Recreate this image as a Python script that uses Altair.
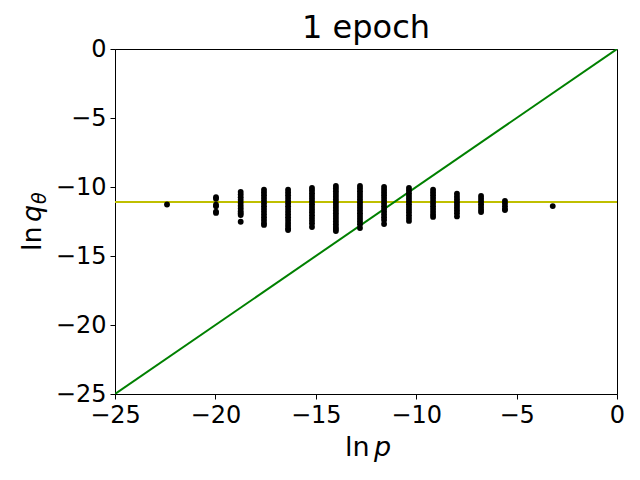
import altair as alt
import pandas as pd

# column positions (ln p) and the ln q values in each column
col_x = [-22.41, -19.97, -18.74, -17.58, -16.38, -15.19, -14.0, -12.8,
         -11.6, -10.36, -9.16, -7.97, -6.77, -5.58, -3.2]
col_y = [
    [-11.27],
    [-10.74, -10.86, -11.28, -11.40, -11.78, -11.88],
    [-10.36, -10.55, -10.75, -10.95, -11.15, -11.35, -11.55, -11.75, -11.9, -12.03, -12.52],
    [-10.2, -10.4, -10.6, -10.8, -11.0, -11.2, -11.4, -11.6, -11.8, -12.0, -12.2, -12.4, -12.6, -12.75],
    [-10.2, -10.4, -10.6, -10.8, -11.0, -11.2, -11.4, -11.6, -11.8, -12.0, -12.2, -12.4, -12.6, -12.8, -13.0, -13.12],
    [-10.07, -10.25, -10.45, -10.65, -10.85, -11.05, -11.25, -11.45, -11.65, -11.85, -12.05, -12.25, -12.45, -12.65, -12.9],
    [-9.93, -10.1, -10.3, -10.5, -10.7, -10.9, -11.1, -11.3, -11.5, -11.7, -11.9, -12.1, -12.3, -12.5, -12.7, -12.9, -13.05, -13.19],
    [-9.93, -10.1, -10.3, -10.5, -10.7, -10.9, -11.1, -11.3, -11.5, -11.7, -11.9, -12.1, -12.3, -12.5, -12.7, -12.97],
    [-10.0, -10.2, -10.4, -10.6, -10.8, -11.0, -11.2, -11.4, -11.6, -11.8, -12.0, -12.2, -12.4, -12.68],
    [-10.07, -10.25, -10.45, -10.65, -10.85, -11.05, -11.25, -11.45, -11.65, -11.85, -12.05, -12.25, -12.46],
    [-10.2, -10.4, -10.6, -10.8, -11.0, -11.2, -11.4, -11.6, -11.8, -12.0, -12.17],
    [-10.49, -10.7, -10.9, -11.1, -11.3, -11.5, -11.7, -11.9, -12.13],
    [-10.65, -10.85, -11.05, -11.25, -11.45, -11.65, -11.81],
    [-11.01, -11.2, -11.4, -11.6, -11.67],
    [-11.38],
]
diag_x = [-25, 0]
diag_y = [-25, 0]
mean_level = -11.08
ticks = [-25, -20, -15, -10, -5, 0]

rows = []
for cx, ys in zip(col_x, col_y):
    for v in ys:
        rows.append({"lnp": cx, "lnq": v})
pts_df = pd.DataFrame(rows)
diag_df = pd.DataFrame({"lnp": diag_x, "lnq": diag_y})

W, H = 502, 345
FONT = "DejaVu Sans"

xs = alt.Scale(domain=[-25, 0], nice=False, zero=False)
ys_ = alt.Scale(domain=[-25, 0], nice=False, zero=False)
xax = alt.Axis(values=ticks, title=None, grid=False, labelFlush=False)
yax = alt.Axis(values=ticks, title=None, grid=False, labelFlush=False)

points = alt.Chart(pts_df).mark_circle(size=34, color="black", opacity=1).encode(
    x=alt.X("lnp:Q", scale=xs, axis=xax),
    y=alt.Y("lnq:Q", scale=ys_, axis=yax),
)
diag = alt.Chart(diag_df).mark_line(color="#008000", strokeWidth=2, clip=True).encode(
    x=alt.X("lnp:Q", scale=xs, axis=xax),
    y=alt.Y("lnq:Q", scale=ys_, axis=yax),
)
hline = alt.Chart(pd.DataFrame({"v": [mean_level]})).mark_rule(
    color="#bfbf00", strokeWidth=2
).encode(y=alt.Y("v:Q", scale=ys_, axis=yax))


def txt(s, x, y, size, style="normal", angle=0, align="left"):
    return alt.Chart(pd.DataFrame({"t": [s]})).mark_text(
        font=FONT, fontSize=size, fontStyle=style, angle=angle, align=align,
        baseline="alphabetic", color="black",
    ).encode(x=alt.value(x), y=alt.value(y), text="t:N")


title = txt("1 epoch", W / 2, -11, 32, align="center")
xl1 = txt("ln", 230, 407, 27)
xl2 = txt("p", 259, 407, 27, style="italic")
yl1 = txt("ln", -74, 202, 27, angle=270)
yl2 = txt("q", -74, 173, 27, style="italic", angle=270)
yl3 = txt("θ", -69, 155, 19, style="italic", angle=270)

chart = alt.layer(hline, diag, points, title, xl1, xl2, yl1, yl2, yl3).properties(
    width=W, height=H,
    padding={"left": 107, "top": 41, "right": 15, "bottom": 70},
    autosize=alt.AutoSizeParams(type="none"),
).configure_view(stroke="black", strokeWidth=1).configure_axis(
    labelFont=FONT, labelFontSize=24, labelColor="black",
    domainColor="black", tickColor="black", tickSize=5, labelPadding=4,
    domainWidth=1, tickWidth=1,
)

chart.save("out.html", embed_options={"renderer": "svg", "actions": False})
